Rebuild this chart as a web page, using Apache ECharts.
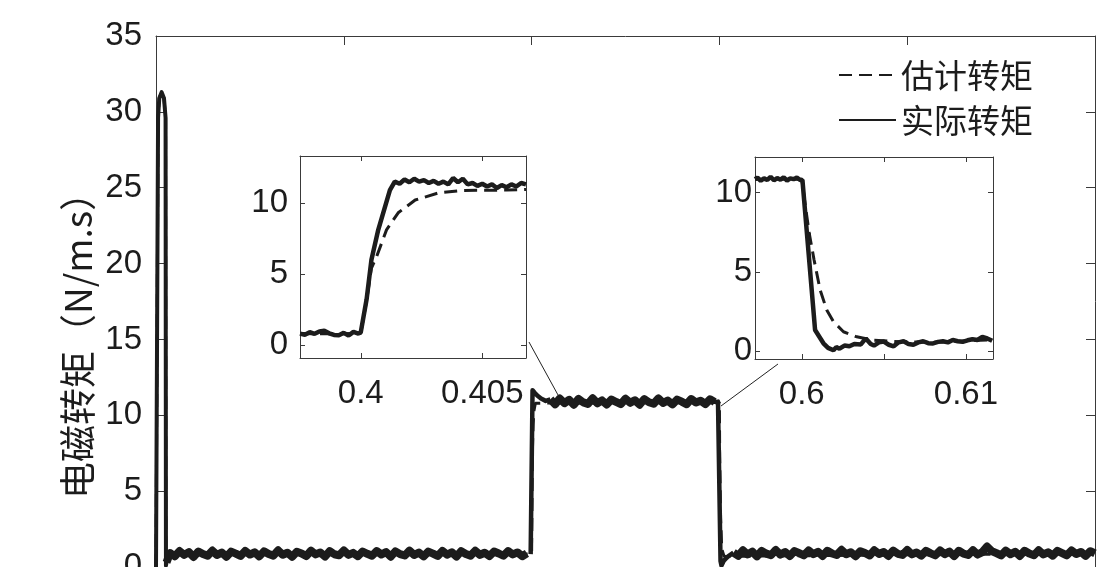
<!DOCTYPE html>
<html><head><meta charset="utf-8">
<script src="https://cdn.jsdelivr.net/npm/echarts@6/dist/echarts.min.js"></script>
<style>html,body{margin:0;padding:0;background:#fff;overflow:hidden}#c{width:1102px;height:567px}</style>
</head><body><div id="c"></div>
<script>
// ---------------- data ----------------
const seriesNames = ['估计转矩', '实际转矩'];
const yAxisName = '电磁转矩（N/m.s）';

// main plot: real torque, start-up spike
const spikeT = [0, 0.0022, 0.0035, 0.006, 0.0085, 0.0102, 0.0106, 0.0112];
const spikeV = [0, 29.6, 30.9, 31.3, 30.9, 29.6, 0.1, 0.3];
// low load segment 1 (sampled every 0.005 s from 0.015 s)
const low1Start = 0.015, low1Step = 0.005;
const low1V = [0.92,0.71,1.05,0.80,0.98,0.66,1.02,0.85,0.74,1.08,
  0.79,0.95,0.68,1.01,0.88,0.73,1.06,0.82,0.97,0.70,
  1.03,0.86,0.75,1.10,0.81,0.94,0.67,1.00,0.89,0.72,
  1.07,0.83,0.96,0.69,1.04,0.84,0.77,1.09,0.80,0.93,
  0.71,1.02,0.87,0.74,1.05,0.82,0.98,0.68,1.03,0.85,
  0.76,1.08,0.79,0.95,0.70,1.01,0.88,0.73,1.06,0.81,
  0.97,0.69,1.04,0.86,0.75,1.07,0.80,0.94,0.72,1.02,
  0.89,0.74,1.05,0.83,0.96,0.71,0.90];
// load step up at 0.4 s
const riseT = [0.3990, 0.4000, 0.4010, 0.4030, 0.4060, 0.4100, 0.4150, 0.4200];
const riseV = [0.85, 0.90, 11.65, 11.5, 11.3, 11.1, 10.95, 11.05];
// high load segment (every 0.005 s from 0.42 s)
const highStart = 0.42, highStep = 0.005;
const highV = [11.05,10.72,11.10,10.80,11.02,10.70,11.08,10.85,10.75,11.12,
  10.79,10.98,10.71,11.04,10.88,10.74,11.09,10.82,10.99,10.70,
  11.06,10.86,10.76,11.11,10.81,10.97,10.72,11.03,10.90,10.73,
  11.07,10.84,10.96,10.74,11.05,10.88];
// load step down at 0.6 s
const fallT = [0.5950, 0.5985, 0.6002, 0.6012, 0.6022, 0.6045, 0.6075, 0.6105, 0.6150];
const fallV = [10.88, 10.9, 10.85, 0.4, 0.1, 0.4, 0.6, 0.75, 0.95];
// low load segment 2 (every 0.005 s from 0.615 s)
const low2Start = 0.615, low2Step = 0.005;
const low2V = [0.95,0.74,1.10,0.83,1.01,0.70,1.06,0.88,0.78,1.12,
  0.82,0.99,0.72,1.05,0.91,0.77,1.09,0.85,1.00,0.73,
  1.07,0.89,0.79,1.13,0.84,0.97,0.71,1.04,0.92,0.76,
  1.10,0.86,0.99,0.73,1.08,0.87,0.80,1.12,0.83,0.96,
  0.75,1.06,0.90,0.77,1.09,0.85,1.01,0.72,1.07,0.88,
  0.79,1.11,0.82,0.98,1.35,1.05,0.91,0.76,1.08,0.84,
  1.00,0.73,1.07,0.89,0.78,1.10,0.83,0.97,0.75,1.06,
  0.92,0.77,1.09,0.86,0.99,0.74,1.04,0.90];
// main plot: estimated torque
const estMainT = [0, 0.0022, 0.0035, 0.006, 0.0085, 0.0102, 0.0106, 0.015, 0.400, 0.4006, 0.4010, 0.4016, 0.4025, 0.4040, 0.6000, 0.6003, 0.6013, 0.6025, 0.6050, 1.0];
const estMainV = [0, 29.6, 30.9, 31.3, 30.9, 29.6, 0.3, 0.85, 0.85, 5.5, 8.0, 9.4, 10.3, 10.8, 10.85, 7.3, 3.2, 1.2, 0.7, 0.9];

// inset 1 (around 0.4 s)
const in1RealT = [0.3975,0.3977,0.3979,0.3981,0.3983,0.3985,0.3987,0.3989,0.3991,0.3993,0.3995,0.3997,0.3999,0.4000,
  0.40024,0.40044,0.40072,0.4012,0.4014,0.4016,0.4018,0.4020,0.4022,0.4024,0.4026,0.4028,0.4030,0.4032,0.4034,0.4036,
  0.4038,0.4040,0.4042,0.4044,0.4046,0.4048,0.4050,0.4052,0.4054,0.4056,0.4058,0.4060,0.4062,0.4064,0.4066,0.4068];
const in1RealV = [0.80,0.72,0.90,0.78,0.95,1.00,0.82,0.70,0.68,0.85,0.66,0.92,0.80,0.88,
  3.2,6.0,8.1,10.9,11.5,11.35,11.65,11.45,11.7,11.5,11.6,11.4,11.55,11.35,11.5,11.3,
  11.75,11.45,11.7,11.3,11.4,11.2,11.35,11.15,11.3,11.05,11.25,11.1,11.3,11.15,11.4,11.3];
const in1EstT = [0.3975, 0.3990, 0.4000, 0.40024, 0.40044, 0.40065, 0.40106, 0.40154, 0.40224, 0.4032, 0.40417, 0.4060, 0.4068];
const in1EstV = [0.80, 0.78, 0.82, 3.1, 5.4, 6.2, 8.1, 9.3, 10.2, 10.7, 10.87, 10.9, 10.95];
const in1XTicks = [0.4, 0.405];
const insetYTicks = [0, 5, 10];

// inset 2 (around 0.6 s)
const in2RealT = [0.59715,0.5973,0.5975,0.5977,0.5979,0.5981,0.5983,0.5985,0.5987,0.5989,0.5991,0.5993,0.5995,0.5997,0.5999,
  0.60004,0.60081,0.60132,0.6016,0.60193,0.6021,0.6023,0.6026,0.6029,0.6032,0.6036,0.6039,0.6042,0.6044,0.6047,0.6050,
  0.6053,0.6056,0.6059,0.6062,0.6065,0.6068,0.6071,0.6074,0.6077,0.6080,0.6083,0.6086,0.6089,0.6092,0.6095,0.6098,
  0.6101,0.6104,0.6107,0.6110,0.6113,0.6116];
const in2RealV = [10.85,10.95,10.75,10.9,10.8,11.0,10.78,10.92,10.82,10.97,10.76,10.9,10.85,10.95,10.8,
  10.8,1.33,0.49,0.20,0.05,0.25,0.15,0.35,0.30,0.45,0.42,0.80,0.45,0.35,0.55,0.60,
  0.40,0.30,0.55,0.62,0.45,0.40,0.55,0.62,0.50,0.48,0.58,0.62,0.55,0.70,0.62,0.58,
  0.68,0.75,0.70,0.90,0.80,0.65];
const in2EstT = [0.59715, 0.6000, 0.6002, 0.60046, 0.60075, 0.60112, 0.60152, 0.60193, 0.60254, 0.60335, 0.60437, 0.60599, 0.6080, 0.61006, 0.61164];
const in2EstV = [10.85, 10.85, 9.3, 7.4, 5.75, 3.85, 2.6, 1.85, 1.22, 0.9, 0.69, 0.59, 0.55, 0.65, 0.72];
const in2XTicks = [0.6, 0.605, 0.61];
const in2XLabels = [0.6, 0.61];

// zoom connector lines (main-plot data coordinates)
const connector1 = [[0.3972, 14.83], [0.4281, 11.34]];
const connector2 = [[0.6624, 13.38], [0.6017, 10.61]];

// ---------------- build ----------------
function zip(t, v) { return t.map((x, i) => [x, v[i]]); }
function sampled(start, step, v) { return v.map((y, i) => [+(start + i * step).toFixed(4), y]); }

const mainSpike = zip(spikeT, spikeV);
const mainLow1 = [mainSpike[mainSpike.length - 1]].concat(sampled(low1Start, low1Step, low1V));
const mainRise = zip(riseT, riseV);
const mainHigh = sampled(highStart, highStep, highV);
const mainFall = zip(fallT, fallV);
const mainLow2 = sampled(low2Start, low2Step, low2V);
const mainEst = zip(estMainT, estMainV);

const INK = '#1c1c1c';
const AXIS = '#3a3a3a';
const latin = '"Liberation Sans", Arial, sans-serif';
const cjk = '"Noto Sans CJK SC", sans-serif';
const DASH = [13, 7];

function boxAxis(o) {
  return {
    type: 'value',
    gridIndex: o.grid,
    position: o.position,
    min: o.min, max: o.max, interval: o.interval,
    axisLine: { show: o.line !== false, onZero: false, lineStyle: { color: AXIS, width: 1 } },
    splitLine: { show: false },
    axisTick: { show: o.tick !== false, inside: true, length: o.tickLen || 5,
      customValues: o.ticks, lineStyle: { color: AXIS } },
    axisLabel: o.labelSize ? { show: true, customValues: o.labels, fontFamily: latin,
      fontSize: o.labelSize, color: INK, margin: o.margin } : { show: false }
  };
}
function realLine(data, width, extra) {
  return Object.assign({ name: seriesNames[1], type: 'line', xAxisIndex: 0, yAxisIndex: 0, data: data,
    symbol: 'none', lineStyle: { color: INK, width: width, join: 'round' }, itemStyle: { color: INK } }, extra || {});
}

const chart = echarts.init(document.getElementById('c'), null, { renderer: 'canvas' });
chart.setOption({
  animation: false,
  backgroundColor: '#fff',
  grid: [
    { left: 156, top: 36, width: 939, height: 531, outerBoundsMode: 'none', containLabel: false },
    { left: 300, top: 156, width: 226, height: 202, outerBoundsMode: 'none', containLabel: false },
    { left: 755, top: 157, width: 238, height: 202, outerBoundsMode: 'none', containLabel: false }
  ],
  legend: {
    orient: 'vertical', left: 838, top: 58,
    itemWidth: 57, itemHeight: 14, itemGap: 11, padding: 0,
    data: seriesNames,
    itemStyle: { color: 'rgba(0,0,0,0)', borderColor: 'rgba(0,0,0,0)', borderWidth: 0, opacity: 0 },
    textStyle: { fontFamily: cjk, fontSize: 33, color: INK, lineHeight: 34 }
  },
  xAxis: [
    boxAxis({ grid: 0, min: 0, max: 1, interval: 0.2, line: false, tick: false }),
    boxAxis({ grid: 0, position: 'top', min: 0, max: 1, interval: 0.2, tickLen: 9 }),
    boxAxis({ grid: 1, min: 0.3975, max: 0.4068, ticks: in1XTicks, labels: in1XTicks, labelSize: 33, margin: 19 }),
    boxAxis({ grid: 1, position: 'top', min: 0.3975, max: 0.4068, ticks: in1XTicks }),
    boxAxis({ grid: 2, min: 0.59715, max: 0.61165, ticks: in2XTicks, labels: in2XLabels, labelSize: 33, margin: 19 }),
    boxAxis({ grid: 2, position: 'top', min: 0.59715, max: 0.61165, ticks: in2XTicks })
  ],
  yAxis: [
    boxAxis({ grid: 0, min: 0, max: 35, interval: 5, tickLen: 9, labelSize: 33, margin: 14 }),
    boxAxis({ grid: 0, position: 'right', min: 0, max: 35, interval: 5, tickLen: 9 }),
    boxAxis({ grid: 1, min: -0.92, max: 13.3, ticks: insetYTicks, labels: insetYTicks, labelSize: 33, margin: 12 }),
    boxAxis({ grid: 1, position: 'right', min: -0.92, max: 13.3, ticks: insetYTicks }),
    boxAxis({ grid: 2, min: -0.5, max: 12.25, ticks: insetYTicks, labels: insetYTicks, labelSize: 33, margin: 3 }),
    boxAxis({ grid: 2, position: 'right', min: -0.5, max: 12.25, ticks: insetYTicks })
  ],
  graphic: [{
    type: 'text', x: 78, y: 499, rotation: Math.PI / 2,
    style: { text: yAxisName, font: '37px ' + cjk, fill: INK, textAlign: 'left', textVerticalAlign: 'middle', align: 'left', verticalAlign: 'middle' }
  }],
  series: [
    { name: seriesNames[0], type: 'line', xAxisIndex: 0, yAxisIndex: 0, data: mainEst, symbol: 'none',
      lineStyle: { color: INK, width: 3, type: DASH }, itemStyle: { color: INK } },
    realLine(mainSpike, 4),
    realLine(mainLow1, 8),
    realLine(mainHigh, 8),
    realLine(mainLow2, 8),
    realLine(mainRise, 4.5),
    realLine(mainFall, 4.5, {
      markLine: { silent: true, symbol: 'none', label: { show: false },
        lineStyle: { color: '#222', width: 1, type: 'solid' },
        data: [
          [{ coord: connector1[0] }, { coord: connector1[1] }],
          [{ coord: connector2[0] }, { coord: connector2[1] }]
        ] } }),
    { name: seriesNames[0], type: 'line', xAxisIndex: 2, yAxisIndex: 2, data: zip(in1EstT, in1EstV), symbol: 'none',
      lineStyle: { color: INK, width: 3, type: DASH }, itemStyle: { color: INK } },
    { name: seriesNames[1], type: 'line', xAxisIndex: 2, yAxisIndex: 2, data: zip(in1RealT, in1RealV), symbol: 'none',
      lineStyle: { color: INK, width: 4.5 }, itemStyle: { color: INK } },
    { name: seriesNames[0], type: 'line', xAxisIndex: 4, yAxisIndex: 4, data: zip(in2EstT, in2EstV), symbol: 'none',
      lineStyle: { color: INK, width: 3, type: DASH }, itemStyle: { color: INK } },
    { name: seriesNames[1], type: 'line', xAxisIndex: 4, yAxisIndex: 4, data: zip(in2RealT, in2RealV), symbol: 'none',
      lineStyle: { color: INK, width: 4.5 }, itemStyle: { color: INK } }
  ]
});
</script></body></html>
